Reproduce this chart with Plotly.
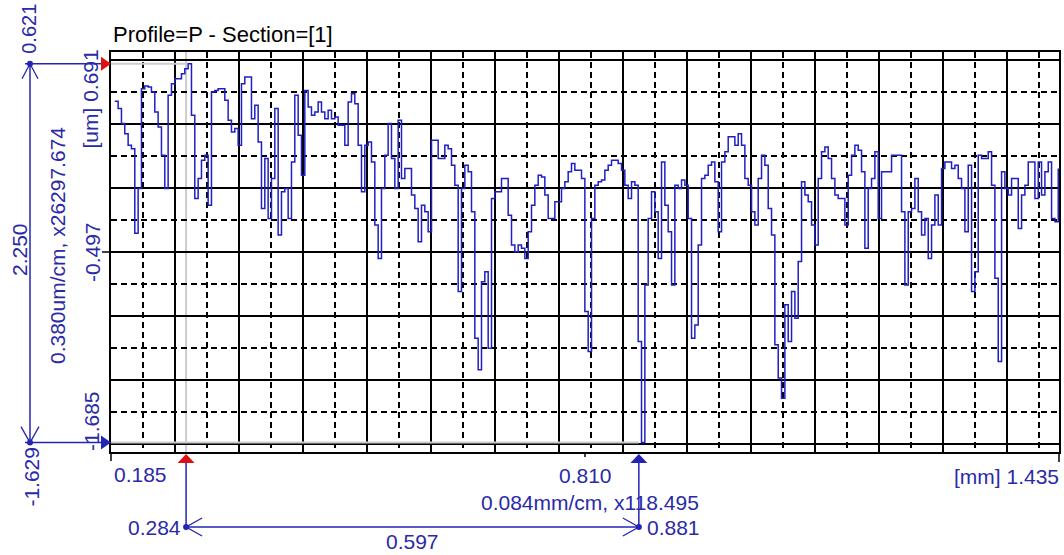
import numpy as np
import plotly.graph_objects as go

# ---------------- data ----------------
# profile heights [um], sampled uniformly along the evaluation length [mm]
profile_start_mm = 0.190
profile_end_mm = 1.434
profile_um_a = [0.398, 0.355, 0.266, 0.206, 0.137, 0.117, -0.386, -0.120, 0.473, 0.489,
                0.483, 0.453, 0.335, 0.246, 0.078, -0.120, 0.434, 0.503, 0.532, 0.532,
                0.562, 0.592, 0.621, 0.315, -0.179, -0.060, 0.048, 0.078, -0.219, 0.453,
                0.463, 0.473, 0.473, 0.404, 0.285, 0.216, 0.236, 0.137, 0.503, 0.542,
                0.542, 0.295, 0.374, 0.157, -0.238, 0.058, -0.298, -0.060, 0.355, -0.396,
                -0.139, -0.120, -0.298, 0.038, 0.434, 0.197, -0.041, 0.463, 0.364, 0.315,
                0.335, 0.394, 0.335, 0.295, 0.345, 0.295, 0.305, 0.256]
profile_um_b = [0.256, 0.137, 0.394, 0.443, 0.384, 0.137, -0.139, 0.137, 0.157, 0.038,
                -0.337, -0.535, -0.120, 0.078, 0.266, 0.058, -0.120, 0.285, -0.060, -0.001,
                -0.001, -0.159, -0.238, -0.436, -0.219, -0.258, -0.377, 0.167, 0.167, 0.058,
                0.058, 0.137, 0.117, 0.019, -0.100, -0.732, -0.120, 0.019, -0.021, -0.258,
                -1.009, -1.197, -0.673, -0.614, -1.068, -0.179, -0.139, -0.139, -0.060, -0.060,
                -0.278, -0.456, -0.495, -0.456, -0.475, -0.535, -0.377, -0.219, -0.100, -0.041,
                -0.051, -0.159, -0.298, -0.298, -0.199, -0.199, -0.120, -0.080, -0.021, 0.029]
profile_um_c = [-0.011, -0.011, -0.060, -0.851, -1.088, -0.298, -0.100, -0.080, -0.070, -0.011,
                0.019, 0.048, 0.048, 0.029, -0.011, -0.100, -0.179, -0.080, -0.100, -1.029,
                -1.629, -0.693, -0.298, -0.139, -0.258, -0.535, 0.038, -0.219, -0.377, -0.693,
                -0.100, -0.120, -0.070, -0.100, -0.298, -1.009, -0.930, -0.456, -0.060, -0.041,
                0.019, 0.038, -0.080, -0.377, 0.038, 0.098, 0.187, 0.187, 0.137, 0.206,
                0.137, -0.060, -0.100, -0.258, -0.337, -0.060, 0.078, 0.019, -0.238, -0.396,
                -1.048, -1.246, -1.365, -0.811, -1.029, -0.732, -0.890, -0.554, -0.080, -0.159,
                -0.199, -0.337]
profile_um_d = [-0.456, -0.060, 0.098, 0.127, 0.058, -0.060, -0.159, -0.179, -0.179, -0.337,
                -0.041, 0.078, 0.137, 0.108, -0.021, -0.475, -0.120, -0.060, 0.098, -0.298,
                -0.021, -0.021, -0.021, 0.078, 0.078, 0.078, -0.258, -0.693, -0.258, -0.238,
                -0.060, -0.258, -0.396, -0.298, -0.535, -0.337, -0.159, -0.337, -0.001, 0.038,
                0.038, -0.001, 0.019, -0.060, -0.120, -0.377, 0.019, -0.732, -0.614, 0.078,
                0.058, 0.058, 0.098, -0.100, -0.653, -1.147, -0.021, -0.120, -0.159, -0.060,
                -0.060, -0.357, -0.159, -0.100, 0.038, 0.038, -0.179, 0.038, -0.159, -0.021,
                0.038, -0.298, -0.317, -0.001]

x_min_mm, x_mid_mm, x_max_mm = 0.185, 0.810, 1.435
y_min_um, y_mid_um, y_max_um = -1.685, -0.497, 0.691
x_div_mm = 0.0844          # one grid division = 1 cm on the printout
y_div_um = 0.380
cursor_a = (0.284, 0.621)  # (position mm, height um) highest peak
cursor_b = (0.881, -1.629)  # deepest valley
x_scale_label = "0.084mm/cm, x118.495"
y_scale_label = "0.380um/cm, x26297.674"
title_label = "Profile=P - Section=[1]"

# ---------------- styling ----------------
PROFILE = "#1f1fc4"
BLUE = "#2424b4"
TEXT_BLUE = "#2a2aa8"
RED = "#dd1111"
GRAY = "#cdcdcd"
GRID = "#000000"
FONT = "Arial, Liberation Sans, sans-serif"
FS = 21

profile_um = profile_um_a + profile_um_b + profile_um_c + profile_um_d
profile_mm = np.linspace(profile_start_mm, profile_end_mm, len(profile_um))

fig = go.Figure()
fig.add_trace(go.Scatter(x=profile_mm, y=profile_um, mode="lines",
                         line=dict(color=PROFILE, width=1.5, shape="hv"),
                         hoverinfo="skip", showlegend=False))

ax_, ay_ = cursor_a
bx_, by_ = cursor_b

shapes = []
# light cursor guides inside the plot
shapes.append(dict(type="line", xref="x", yref="paper", x0=ax_, x1=ax_, y0=0, y1=1,
                   line=dict(color=GRAY, width=2), layer="between"))
shapes.append(dict(type="line", xref="x", yref="y", x0=x_min_mm, x1=ax_, y0=ay_, y1=ay_,
                   line=dict(color=GRAY, width=2), layer="between"))
shapes.append(dict(type="line", xref="x", yref="y", x0=x_min_mm, x1=bx_, y0=by_, y1=by_,
                   line=dict(color=GRAY, width=2), layer="between"))

# ---- left vertical dimension (height difference) ----
L = -81
shapes.append(dict(type="line", xref="paper", xsizemode="pixel", xanchor=0, x0=L, x1=L,
                   yref="y", y0=ay_, y1=by_, line=dict(color=BLUE, width=1.5)))
for yv, col in ((ay_, RED), (by_, BLUE)):
    shapes.append(dict(type="line", xref="paper", xsizemode="pixel", xanchor=0, x0=L - 5, x1=-6,
                       yref="y", y0=yv, y1=yv, line=dict(color=BLUE, width=1.5)))
    shapes.append(dict(type="path", xref="paper", xsizemode="pixel", xanchor=0,
                       yref="y", ysizemode="pixel", yanchor=yv,
                       path="M-10,7 L0,0 L-10,-7 Z", fillcolor=col, line=dict(width=0)))
    shapes.append(dict(type="circle", xref="paper", xsizemode="pixel", xanchor=0, x0=L - 3, x1=L + 3,
                       yref="y", ysizemode="pixel", yanchor=yv, y0=-3, y1=3,
                       fillcolor=BLUE, line=dict(width=0)))
shapes.append(dict(type="path", xref="paper", xsizemode="pixel", xanchor=0,
                   yref="y", ysizemode="pixel", yanchor=ay_,
                   path=f"M{L-8},-15 L{L},0 L{L+8},-15", line=dict(color=BLUE, width=1.3)))
shapes.append(dict(type="path", xref="paper", xsizemode="pixel", xanchor=0,
                   yref="y", ysizemode="pixel", yanchor=by_,
                   path=f"M{L-9},16 L{L},0 L{L+9},16", line=dict(color=BLUE, width=1.3)))
# mid height tick
shapes.append(dict(type="line", xref="paper", xsizemode="pixel", xanchor=0, x0=-9, x1=0,
                   yref="y", y0=y_mid_um, y1=y_mid_um, line=dict(color="#000", width=1.5)))

# ---- bottom horizontal dimension (distance) ----
D = -75
for xv, col in ((ax_, RED), (bx_, BLUE)):
    shapes.append(dict(type="path", xref="x", xsizemode="pixel", xanchor=xv,
                       yref="paper", ysizemode="pixel", yanchor=0,
                       path="M-8.5,-11 L0,-2 L8.5,-11 Z", fillcolor=col, line=dict(width=0)))
    shapes.append(dict(type="line", xref="x", x0=xv, x1=xv, yref="paper", ysizemode="pixel",
                       yanchor=0, y0=-11, y1=D - 1, line=dict(color=BLUE, width=1.5)))
    shapes.append(dict(type="circle", xref="x", xsizemode="pixel", xanchor=xv, x0=-3, x1=3,
                       yref="paper", ysizemode="pixel", yanchor=0, y0=D - 3, y1=D + 3,
                       fillcolor=BLUE, line=dict(width=0)))
shapes.append(dict(type="line", xref="x", x0=ax_, x1=bx_, yref="paper", ysizemode="pixel",
                   yanchor=0, y0=D, y1=D, line=dict(color=BLUE, width=1.5)))
shapes.append(dict(type="path", xref="x", xsizemode="pixel", xanchor=ax_,
                   yref="paper", ysizemode="pixel", yanchor=0,
                   path=f"M16,{D+9} L0,{D} L16,{D-9}", line=dict(color=BLUE, width=1.3)))
shapes.append(dict(type="path", xref="x", xsizemode="pixel", xanchor=bx_,
                   yref="paper", ysizemode="pixel", yanchor=0,
                   path=f"M-16,{D+9} L0,{D} L-16,{D-9}", line=dict(color=BLUE, width=1.3)))
# bottom ticks
shapes.append(dict(type="line", xref="paper", x0=0, x1=0, yref="paper", ysizemode="pixel",
                   yanchor=0, y0=0, y1=-9, line=dict(color="#000", width=1.5)))
shapes.append(dict(type="line", xref="paper", x0=1, x1=1, yref="paper", ysizemode="pixel",
                   yanchor=0, y0=0, y1=-10, line=dict(color="#000", width=1.5)))
shapes.append(dict(type="line", xref="x", x0=x_mid_mm, x1=x_mid_mm, yref="paper", ysizemode="pixel",
                   yanchor=0, y0=0, y1=-5, line=dict(color="#000", width=1.5)))


def ann(text, x, y, xref, yref, xanchor="center", yanchor="middle", xshift=0, yshift=0,
        angle=0, color=TEXT_BLUE, size=FS):
    return dict(text=text, x=x, y=y, xref=xref, yref=yref, xanchor=xanchor, yanchor=yanchor,
                xshift=xshift, yshift=yshift, textangle=angle, showarrow=False,
                font=dict(family=FONT, size=size, color=color), borderpad=0)


f3 = lambda v: f"{v:.3f}"
annotations = [
    ann(title_label, 0, 1, "paper", "paper", xanchor="left", xshift=1, yshift=18, color="#000", size=22),
    ann(f3(x_min_mm), 0, 0, "paper", "paper", xanchor="left", xshift=2, yshift=-22),
    ann(f3(x_mid_mm), x_mid_mm, 0, "x", "paper", yshift=-23),
    ann(f"[mm] {f3(x_max_mm)}", 1, 0, "paper", "paper", xanchor="right", xshift=1, yshift=-24),
    ann(x_scale_label, x_mid_mm, 0, "x", "paper", xshift=5, yshift=-50),
    ann(f3(ax_), ax_, 0, "x", "paper", xanchor="right", xshift=-4, yshift=D),
    ann(f3(bx_), bx_, 0, "x", "paper", xanchor="left", xshift=7, yshift=D),
    ann(f3(bx_ - ax_), (ax_ + bx_) / 2, 0, "x", "paper", yshift=D - 14),
    # left side, rotated
    ann(f"[um] {f3(y_max_um)}", 0, 1, "paper", "paper", yanchor="top", xshift=-21, yshift=3, angle=-90),
    ann(f3(y_mid_um), 0, y_mid_um, "paper", "y", xshift=-19, angle=-90),
    ann(f3(y_min_um), 0, 0, "paper", "paper", yanchor="bottom", xshift=-20, yshift=0, angle=-90),
    ann(y_scale_label, 0, 0.5, "paper", "paper", xshift=-54, yshift=6, angle=-90),
    ann(f3(ay_ - by_), 0, 0.5, "paper", "paper", xshift=-92, yshift=2, angle=-90),
    ann(f3(ay_), 0, ay_, "paper", "y", yanchor="bottom", xshift=-82, yshift=9, angle=-90, size=20),
    ann(f3(by_), 0, by_, "paper", "y", yanchor="top", xshift=-79, yshift=-3, angle=-90),
]

axis_common = dict(showticklabels=False, ticks="", zeroline=False, showline=True, mirror=True,
                   linecolor="#000", linewidth=2, showgrid=True, gridcolor=GRID, gridwidth=2,
                   fixedrange=True)
fig.update_layout(
    width=1064, height=555,
    margin=dict(l=111, r=5, t=52, b=103, autoexpand=False),
    paper_bgcolor="white", plot_bgcolor="white",
    showlegend=False, hovermode=False,
    xaxis=dict(range=[x_min_mm, x_max_mm], tick0=x_min_mm, dtick=x_div_mm,
               minor=dict(tick0=x_min_mm, dtick=x_div_mm / 2, showgrid=True, gridcolor=GRID,
                          gridwidth=2, griddash="6px,4px"), **axis_common),
    yaxis=dict(range=[y_min_um, y_max_um], tick0=y_mid_um, dtick=y_div_um,
               minor=dict(tick0=y_mid_um, dtick=y_div_um / 2, showgrid=True, gridcolor=GRID,
                          gridwidth=2, griddash="6px,4px"), **axis_common),
    shapes=shapes,
    annotations=annotations,
)

fig.write_html("out.html")
